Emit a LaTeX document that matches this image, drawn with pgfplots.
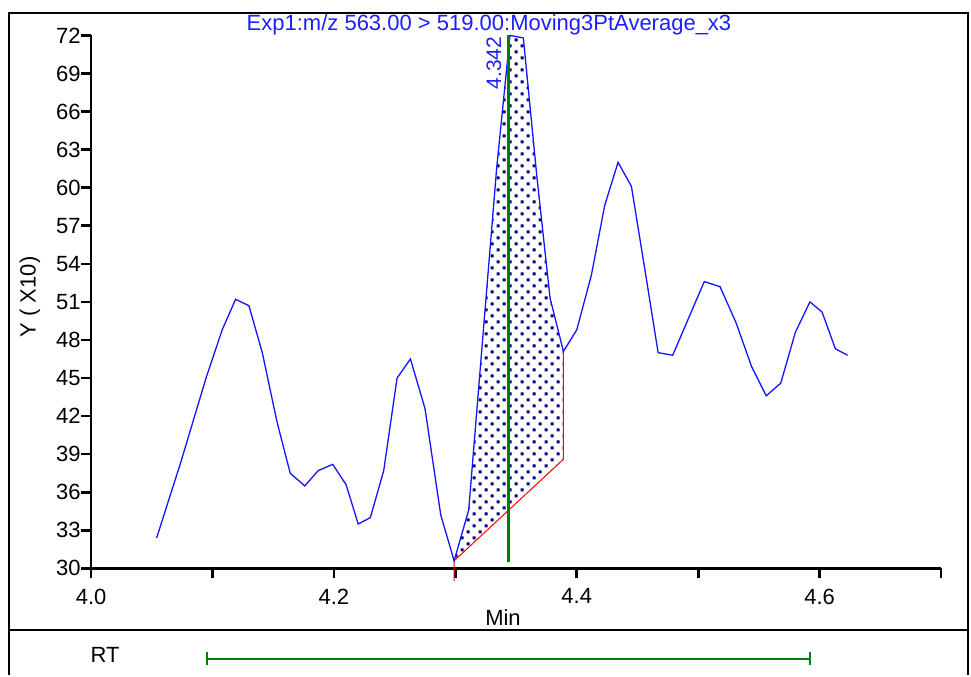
\documentclass[border=0pt]{standalone}
\usepackage{pgfplots}
\pgfplotsset{compat=1.18}
\usepackage{fontspec}
\setmainfont{Liberation Sans}
\usetikzlibrary{patterns}
\pgfdeclarepatternformonly{sqdots}{\pgfqpoint{-1pt}{-1pt}}{\pgfqpoint{5pt}{5pt}}{\pgfqpoint{6pt}{6pt}}{%
 \pgfpathrectangle{\pgfqpoint{-0.75pt}{-0.75pt}}{\pgfqpoint{1.5pt}{1.5pt}}%
 \pgfpathrectangle{\pgfqpoint{2.25pt}{2.25pt}}{\pgfqpoint{1.5pt}{1.5pt}}%
 \pgfusepath{fill}}
\definecolor{cblue}{RGB}{20,20,255}
\definecolor{ctitle}{RGB}{30,30,255}
\definecolor{cgreen}{RGB}{0,128,0}
\definecolor{cnavy}{RGB}{0,0,128}
\definecolor{cred}{RGB}{255,0,0}

\pgfplotstableread{
x y
4.054 32.4
4.074 38.4
4.095 45.1
4.108 48.8
4.119 51.2
4.130 50.7
4.141 47.0
4.153 41.6
4.164 37.5
4.176 36.5
4.187 37.7
4.199 38.2
4.210 36.6
4.220 33.5
4.230 34.0
4.241 37.7
4.252 45.0
4.263 46.5
4.275 42.6
4.288 34.2
4.299 30.6
4.311 34.6
4.322 47.5
4.334 61.5
4.345 72.0
4.356 71.8
4.367 61.0
4.378 51.3
4.389 47.1
4.400 48.8
4.412 53.1
4.423 58.6
4.434 62.0
4.445 60.1
4.456 53.6
4.467 47.0
4.479 46.8
4.492 49.7
4.505 52.6
4.518 52.2
4.531 49.4
4.544 45.9
4.556 43.6
4.568 44.6
4.580 48.6
4.592 51.0
4.602 50.2
4.613 47.3
4.623 46.8
}\curve

\begin{document}
\begin{tikzpicture}[x=0.5pt,y=0.5pt]
\begin{axis}[
  at={(75,84)}, anchor=south west,
  scale only axis, width=425pt, height=266.5pt,
  xmin=4.0, xmax=4.7, ymin=30, ymax=72,
  axis lines*=left,
  axis line style={line width=1.3pt},
  tick style={line width=1.3pt, black},
  tick align=outside, major tick length=5pt,
  xtick={4.0,4.1,4.2,4.3,4.4,4.5,4.6,4.7},
  xticklabels={4.0,,4.2,,4.4,,4.6,},
  ytick={30,33,...,72},
  /pgf/number format/assume math mode=true,
  ticklabel style={font=\fontsize{11}{13}\selectfont},
  yticklabel style={inner sep=0pt},
  xticklabel style={inner sep=0pt, yshift=-5pt},
  clip=false,
]
\addplot[pattern=sqdots, pattern color=cnavy, draw=none] coordinates {
(4.299,30.6) (4.311,34.6) (4.322,47.5) (4.334,61.5) (4.345,72.0) (4.356,71.8)
(4.367,61.0) (4.378,51.3) (4.389,47.1) (4.389,38.6)} -- cycle;
\addplot[cred, line width=0.5pt] coordinates {(4.299,29.0) (4.299,30.6) (4.389,38.6) (4.389,47.1)};
\addplot[cblue, line width=0.65pt] table[x=x,y=y] {\curve};
\addplot[cgreen, line width=1.5pt] coordinates {(4.3435,30.5) (4.3435,72)};
\node[rotate=90, text=ctitle, font=\fontsize{10.5}{12}\selectfont, inner sep=0pt, anchor=base east]
  at ([xshift=-3.5pt,yshift=-0.5pt]axis cs:4.3435,72) {4.342};
\addplot[cgreen, line width=1pt, mark=|, mark size=3.25pt, mark options={line width=1pt}]
  coordinates {(4.0956,22.9) (4.592,22.9)};
\end{axis}
\draw[line width=1pt] (9,0) -- (9,662);
\draw[line width=1pt] (968,0) -- (968,662);
\draw[line width=1.2pt] (8,662) -- (969,662);
\draw[line width=1pt] (9,45) -- (968,45);
\node[text=ctitle, font=\fontsize{11}{13}\selectfont, anchor=base] at (489,644) {Exp1:m/z 563.00 > 519.00:Moving3PtAverage\_x3};
\node[rotate=90, font=\fontsize{11}{13}\selectfont, anchor=center] at (30,378) {Y ( X10)};
\node[font=\fontsize{11}{13}\selectfont, anchor=base] at (503,49) {Min};
\node[font=\fontsize{11}{13}\selectfont, anchor=base] at (105,12) {RT};
\path (0,0) rectangle (971,675);
\end{tikzpicture}
\end{document}
